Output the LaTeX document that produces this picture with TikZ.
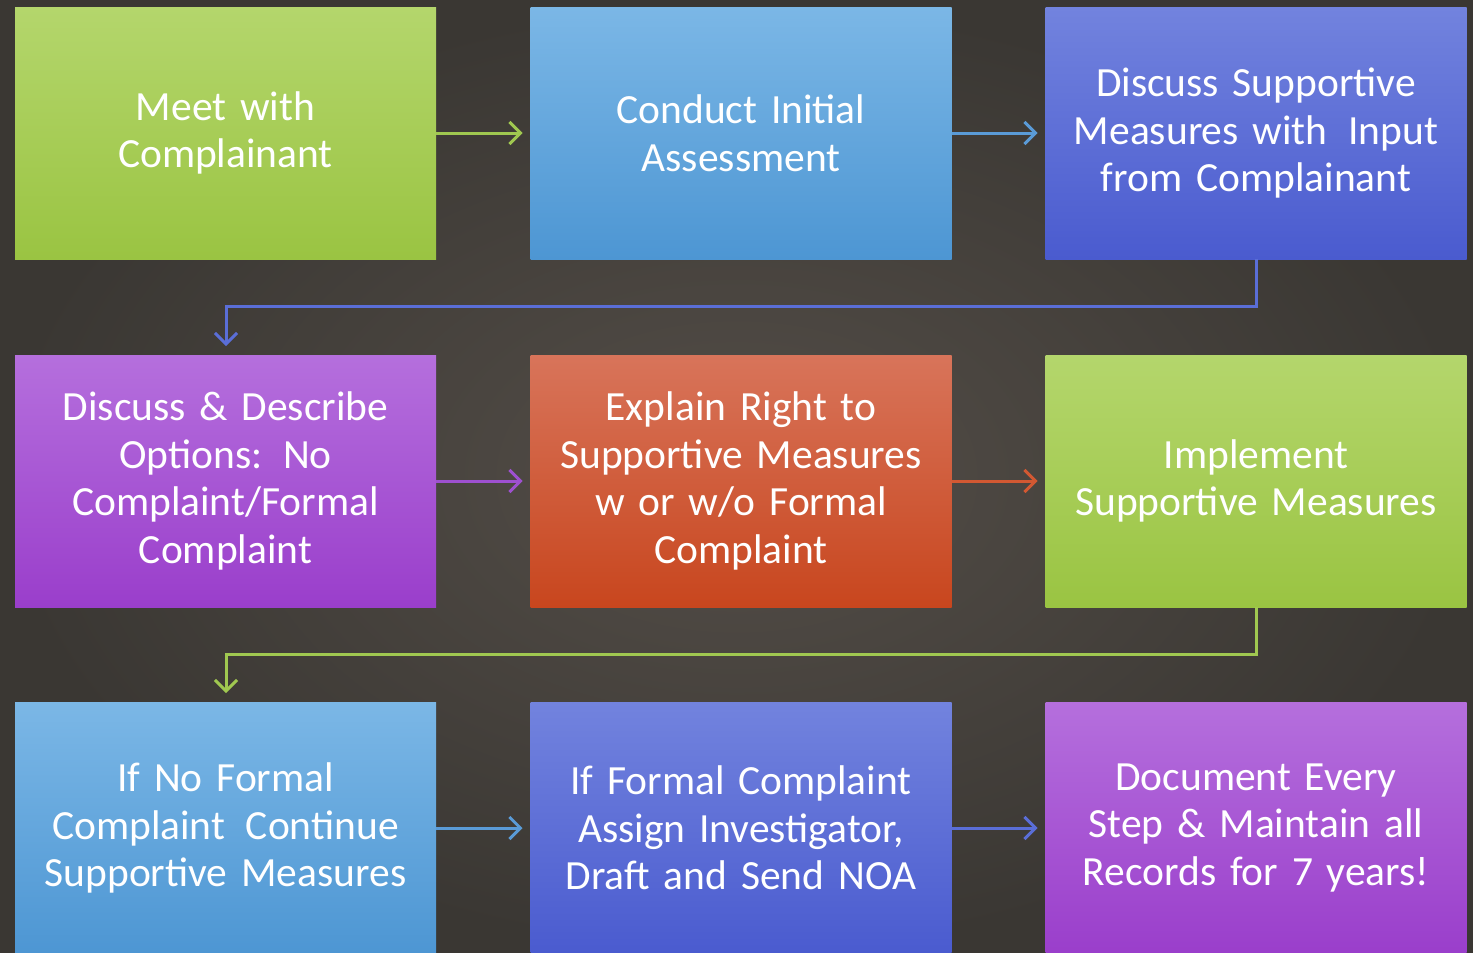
\documentclass[tikz,border=0pt]{standalone}
\usepackage{fontspec}
\setmainfont{Carlito}[WordSpace=0.7]
\usetikzlibrary{arrows.meta}
\definecolor{bgc}{RGB}{84,78,72}
\definecolor{bge}{RGB}{58,55,51}
\definecolor{grT}{RGB}{180,214,108}
\definecolor{grB}{RGB}{154,196,66}
\definecolor{blT}{RGB}{123,183,230}
\definecolor{blB}{RGB}{77,150,211}
\definecolor{inT}{RGB}{114,131,222}
\definecolor{inB}{RGB}{74,91,207}
\definecolor{puT}{RGB}{181,111,221}
\definecolor{puB}{RGB}{154,62,203}
\definecolor{orT}{RGB}{216,116,90}
\definecolor{orB}{RGB}{200,70,30}
\definecolor{grA}{RGB}{160,200,80}
\definecolor{blA}{RGB}{90,155,215}
\definecolor{inA}{RGB}{90,110,215}
\definecolor{puA}{RGB}{158,80,208}
\definecolor{orA}{RGB}{210,88,50}
\tikzset{
  box/.style={minimum width=421pt, minimum height=252pt, inner sep=0pt, outer sep=0pt,
    text width=415pt, align=center, text=white,
    font=\fontsize{41.5}{47.5}\selectfont},
  gbox/.style={box, top color=grT, bottom color=grB},
  bbox/.style={box, top color=blT, bottom color=blB},
  ibox/.style={box, top color=inT, bottom color=inB},
  pbox/.style={box, top color=puT, bottom color=puB},
  obox/.style={box, top color=orT, bottom color=orB},
  conn/.style={line width=3pt, -{Straight Barb[length=11pt,width=22pt,line width=3pt]}},
}
\begin{document}
\begin{tikzpicture}[x=1pt,y=-1pt]
\fill[inner color=bgc, outer color=bge] (0,0) rectangle (1473,953);
\useasboundingbox (0,0) rectangle (1473,953);
\node[gbox] (n1) at (225.5,133) {Meet with\\Complainant};
\node[bbox] (n2) at (741,133) {Conduct Initial\\Assessment};
\node[ibox] (n3) at (1256,133) {Discuss Supportive\\Measures with\, Input\\from Complainant};
\node[pbox] (n4) at (225.5,481) {Discuss \& Describe\\Options: No\\Complaint/Formal\\Complaint};
\node[obox] (n5) at (741,481) {Explain Right to\\Supportive Measures\\w or w/o Formal\\Complaint};
\node[gbox] (n6) at (1256,481) {Implement\\Supportive Measures};
\node[bbox] (n7) at (225.5,828) {If No Formal\\Complaint\, Continue\\Supportive Measures};
\node[ibox] (n8) at (741,828) {If Formal Complaint\\Assign Investigator,\\Draft and Send NOA};
\node[pbox] (n9) at (1256,828) {Document Every\\Step \& Maintain all\\Records for 7 years!};
\coordinate (c1) at (1256,306);
\coordinate (c2) at (226,306);
\coordinate (c3) at (1256,654);
\coordinate (c4) at (226,654);
\draw[conn, grA] (n1.east) -- ([xshift=-8pt]n2.west);
\draw[conn, blA] (n2.east) -- ([xshift=-8pt]n3.west);
\draw[conn, inA] (n3.south) -- (c1) -- (c2) -- ([yshift=9pt]n4.north -| c2);
\draw[conn, puA] (n4.east) -- ([xshift=-8pt]n5.west);
\draw[conn, orA] (n5.east) -- ([xshift=-8pt]n6.west);
\draw[conn, grA] (n6.south) -- (c3) -- (c4) -- ([yshift=9pt]n7.north -| c4);
\draw[conn, blA] (n7.east) -- ([xshift=-8pt]n8.west);
\draw[conn, inA] (n8.east) -- ([xshift=-8pt]n9.west);
\end{tikzpicture}
\end{document}
